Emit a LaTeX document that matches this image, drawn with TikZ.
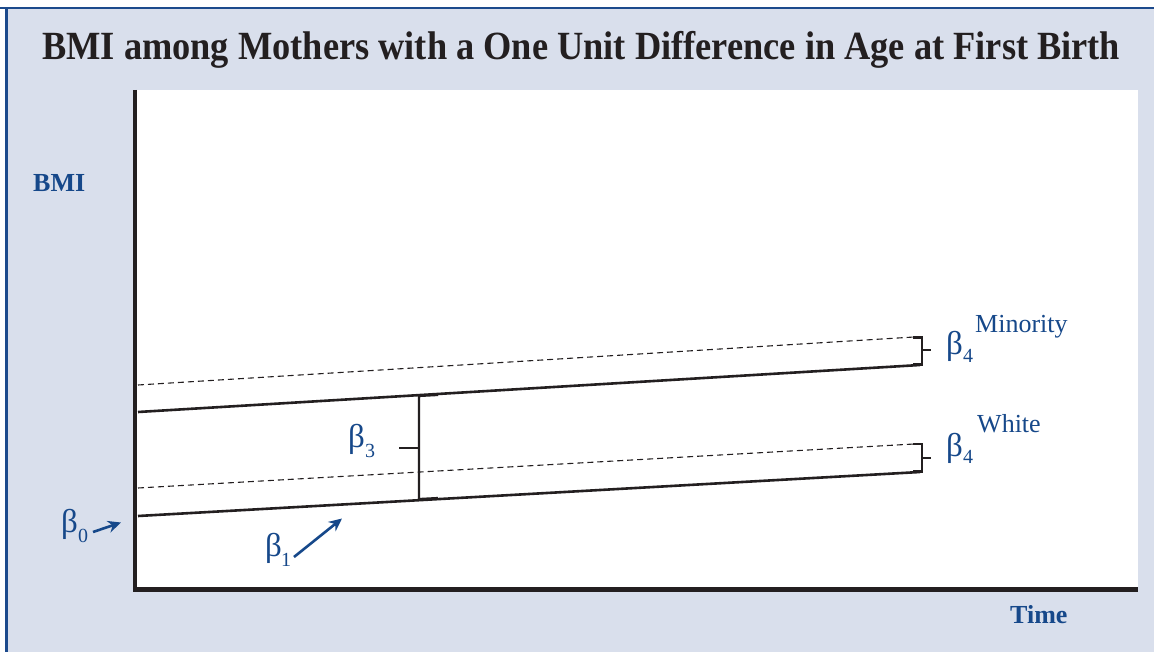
\documentclass[tikz,border=0pt]{standalone}
\usepackage{fontspec}
\setmainfont{Liberation Serif}
\usetikzlibrary{arrows.meta}
\definecolor{bgblue}{RGB}{217,223,236}
\definecolor{frameblue}{RGB}{28,74,140}
\definecolor{txtblue}{RGB}{22,72,138}
\definecolor{ink}{RGB}{35,31,32}
\begin{document}
\begin{tikzpicture}[x=1pt,y=-1pt,
  solidline/.style={draw=ink,line width=2.6pt},
  dashline/.style={draw=ink,line width=1.1pt,dash pattern=on 6pt off 4pt},
  axisline/.style={draw=ink,line width=4.5pt,line join=miter},
  bracketline/.style={draw=ink,line width=2.2pt,line join=miter},
  bluearrow/.style={draw=txtblue,line width=2.6pt,-{Stealth[length=13pt,width=12pt]}},
  betalbl/.style={text=txtblue,font=\fontsize{33}{35}\selectfont,inner sep=0pt,anchor=base west},
  sublbl/.style={text=txtblue,font=\fontsize{20}{22}\selectfont,inner sep=0pt,anchor=base west},
  grplbl/.style={text=txtblue,font=\fontsize{26}{28}\selectfont,inner sep=0pt,anchor=base west},
  axlbl/.style={text=txtblue,font=\bfseries\fontsize{26}{28}\selectfont,inner sep=0pt,anchor=base west},
  titlelbl/.style={text=ink,font=\bfseries\fontsize{40}{44}\selectfont,inner sep=0pt,anchor=base west},
]
\useasboundingbox (0,0) rectangle (1154,652);
\fill[white] (0,0) rectangle (1154,652);
\fill[bgblue] (7,8) rectangle (1154,652);
\draw[frameblue,line width=2.5pt] (0,8) -- (1154,8);
\draw[frameblue,line width=2.5pt] (6.5,8) -- (6.5,652);
\fill[white] (135,90) rectangle (1138,590);

% title
\node[titlelbl] (title) at (42,60) {\resizebox{1078pt}{\height}{BMI among Mothers with a One Unit Difference in Age at First Birth}};

% axes
\coordinate (ytop) at (135,90);
\coordinate (origin) at (135,589.5);
\coordinate (xend) at (1138,589.5);
\draw[axisline] (ytop) -- (origin) -- (xend);
\node[axlbl] (bmi) at (33,192) {BMI};
\node[axlbl] (time) at (1010,623) {Time};

% lines
\coordinate (dm0) at (138,385);
\coordinate (dm1) at (914,337);
\coordinate (um0) at (138,412);
\coordinate (um1) at (920,365);
\coordinate (dw0) at (138,488);
\coordinate (dw1) at (914,444);
\coordinate (uw0) at (138,516);
\coordinate (uw1) at (920,472);
\draw[dashline] (dm0) -- (dm1);
\draw[dashline] (dw0) -- (dw1);
\draw[solidline] (um0) -- (um1);
\draw[solidline] (uw0) -- (uw1);

% beta3 bracket
\coordinate (b3t) at (419,396);
\coordinate (b3b) at (419,499);
\coordinate (b3tr) at (438,395);
\coordinate (b3br) at (438,498);
\coordinate (b3m) at (419,448);
\coordinate (b3ml) at (399,448);
\draw[bracketline] (b3tr) -- (b3t) -- (b3b) -- (b3br);
\draw[bracketline] (b3m) -- (b3ml);

% beta4 brackets
\coordinate (m4t) at (913,337.5);
\coordinate (m4tc) at (922,337.5);
\coordinate (m4bc) at (922,364.5);
\coordinate (m4b) at (913,364.5);
\coordinate (m4m) at (922,350);
\coordinate (m4mr) at (931,350);
\draw[bracketline] (m4t) -- (m4tc) -- (m4bc) -- (m4b);
\draw[bracketline] (m4m) -- (m4mr);
\coordinate (w4t) at (913,444);
\coordinate (w4tc) at (922,444);
\coordinate (w4bc) at (922,471.5);
\coordinate (w4b) at (913,471.5);
\coordinate (w4m) at (922,458);
\coordinate (w4mr) at (931,458);
\draw[bracketline] (w4t) -- (w4tc) -- (w4bc) -- (w4b);
\draw[bracketline] (w4m) -- (w4mr);

% labels
\node[betalbl] (beta4m) at (946,354) {β};
\node[sublbl] (sub4m) at (963,362) {4};
\node[grplbl] (minority) at (975,333) {Minority};
\node[betalbl] (beta4w) at (946,456) {β};
\node[sublbl] (sub4w) at (963,463) {4};
\node[grplbl] (white) at (977,432) {White};
\node[betalbl] (beta3) at (348,447.5) {β};
\node[sublbl] (sub3) at (365,457) {3};
\node[betalbl] (beta0) at (61,532) {β};
\node[sublbl] (sub0) at (78,542) {0};
\node[betalbl] (beta1) at (265,556) {β};
\node[sublbl] (sub1) at (281,566) {1};

% arrows
\coordinate (a0s) at (93,532);
\coordinate (a0e) at (121,522.5);
\draw[bluearrow] (a0s) -- (a0e);
\coordinate (a1s) at (294,557);
\coordinate (a1e) at (342,518.5);
\draw[bluearrow] (a1s) -- (a1e);
\end{tikzpicture}
\end{document}
